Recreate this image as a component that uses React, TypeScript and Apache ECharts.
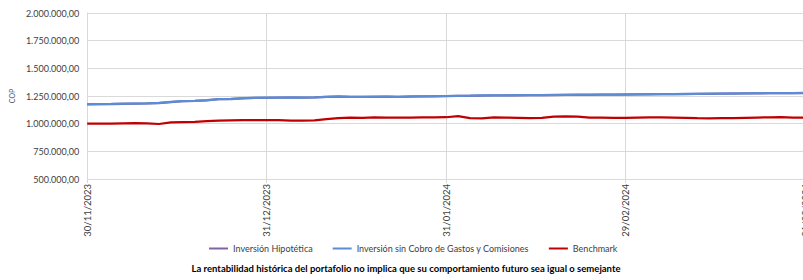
import React, { useEffect, useRef } from "react";
import * as echarts from "echarts";

// Month-end tick dates shown on the x axis
const tickDates = ["30/11/2023", "31/12/2023", "31/01/2024", "29/02/2024", "31/03/2024"];
const stepsPerMonth = 15;

// Values (COP)
const sinCobroValues = [
  1176000, 1177000, 1178000, 1180000, 1182000, 1184000, 1187000, 1196000, 1204000, 1206000,
  1212000, 1222000, 1223000, 1230000, 1233000, 1235000, 1236000, 1237000, 1236000, 1238000,
  1243000, 1246000, 1242000, 1243000, 1244000, 1245000, 1243000, 1246000, 1247000, 1248000,
  1250000, 1252000, 1253000, 1255000, 1256000, 1256000, 1257000, 1258000, 1259000, 1260000,
  1261000, 1262000, 1262000, 1263000, 1263000, 1264000, 1265000, 1266000, 1267000, 1268000,
  1269000, 1270000, 1271000, 1272000, 1273000, 1274000, 1275000, 1276000, 1276000, 1277000,
  1278000,
];
const hipoteticaValues = [
  1175000, 1176000, 1177000, 1179000, 1181000, 1183000, 1186000, 1195000, 1203000, 1205000,
  1211000, 1221000, 1222000, 1229000, 1232000, 1234000, 1235000, 1236000, 1235000, 1237000,
  1242000, 1245000, 1241000, 1242000, 1243000, 1244000, 1242000, 1245000, 1246000, 1247000,
  1249000, 1251000, 1252000, 1254000, 1255000, 1255000, 1256000, 1257000, 1258000, 1259000,
  1260000, 1261000, 1261000, 1262000, 1262000, 1263000, 1264000, 1265000, 1266000, 1267000,
  1268000, 1269000, 1270000, 1271000, 1272000, 1273000, 1274000, 1275000, 1275000, 1276000,
  1277000,
];
const benchmarkValues = [
  1000000, 1000000, 1000000, 1003000, 1004000, 1003000, 997000, 1012000, 1014000, 1016000,
  1024000, 1028000, 1030000, 1031000, 1031000, 1031000, 1032000, 1028000, 1027000, 1030000,
  1042000, 1050000, 1055000, 1053000, 1056000, 1054000, 1054000, 1055000, 1056000, 1057000,
  1058000, 1068000, 1051000, 1048000, 1056000, 1055000, 1053000, 1050000, 1052000, 1064000,
  1065000, 1064000, 1055000, 1054000, 1053000, 1053000, 1055000, 1056000, 1056000, 1054000,
  1052000, 1049000, 1047000, 1049000, 1051000, 1053000, 1055000, 1057000, 1058000, 1055000,
  1054000,
];

const seriesNames = [
  "Inversión Hipotética",
  "Inversión sin Cobro de Gastos y Comisiones",
  "Benchmark",
];
const seriesColors = ["#8064A2", "#5B8DD6", "#C00000"];
const footnote =
  "La rentabilidad histórica del portafolio no implica que su comportamiento futuro sea igual o semejante";

function parseDate(s: string): Date {
  const [d, m, y] = s.split("/").map(Number);
  return new Date(Date.UTC(y, m - 1, d));
}
function fmtDate(dt: Date): string {
  const d = String(dt.getUTCDate()).padStart(2, "0");
  const m = String(dt.getUTCMonth() + 1).padStart(2, "0");
  return `${d}/${m}/${dt.getUTCFullYear()}`;
}
function buildCategories(): string[] {
  const out: string[] = [];
  for (let s = 0; s < tickDates.length - 1; s++) {
    const a = parseDate(tickDates[s]).getTime();
    const b = parseDate(tickDates[s + 1]).getTime();
    for (let k = 0; k < stepsPerMonth; k++) {
      out.push(fmtDate(new Date(a + ((b - a) * k) / stepsPerMonth)));
    }
  }
  out.push(tickDates[tickDates.length - 1]);
  return out;
}

function fmtNum(v: number): string {
  const s = Math.round(v).toString().replace(/\B(?=(\d{3})+(?!\d))/g, ".");
  return s + ",00";
}

const FONT = "Lato, 'Noto Sans', sans-serif";
const CHART_W = 810;

export default function App() {
  const ref = useRef<HTMLDivElement>(null);
  useEffect(() => {
    if (!ref.current) return;
    const chart = echarts.init(ref.current, undefined, { renderer: "svg" });
    const categories = buildCategories();
    const values = [hipoteticaValues, sinCobroValues, benchmarkValues];
    chart.setOption({
      animation: false,
      textStyle: { fontFamily: FONT },
      grid: { left: 82, right: 3, top: 13, bottom: 101, containLabel: false },
      legend: {
        top: 239,
        left: 204,
        icon: "rect",
        itemWidth: 19,
        itemHeight: 2,
        itemGap: 20,
        textStyle: { fontSize: 9, color: "#404040", fontFamily: FONT },
        data: seriesNames,
      },
      xAxis: {
        type: "category",
        boundaryGap: false,
        data: categories,
        axisLine: { show: false },
        axisTick: {
          show: true,
          interval: stepsPerMonth - 1,
          length: 4,
          lineStyle: { color: "#D9D9D9" },
        },
        axisLabel: {
          interval: stepsPerMonth - 1,
          rotate: 90,
          fontSize: 9.5,
          color: "#404040",
          margin: 5,
          fontFamily: FONT,
        },
        splitLine: {
          show: true,
          interval: stepsPerMonth - 1,
          lineStyle: { color: "#D9D9D9", width: 1 },
        },
      },
      yAxis: {
        type: "value",
        min: 500000,
        max: 2000000,
        interval: 250000,
        name: "COP",
        nameLocation: "middle",
        nameGap: 67,
        nameTextStyle: { fontSize: 7, color: "#44546A", fontFamily: FONT },
        axisLine: { show: true, lineStyle: { color: "#D9D9D9" } },
        axisTick: { show: false },
        axisLabel: {
          fontSize: 9,
          color: "#404040",
          margin: 8,
          formatter: (v: number) => fmtNum(v),
          fontFamily: FONT,
        },
        splitLine: { show: true, lineStyle: { color: "#D9D9D9", width: 1 } },
      },
      graphic: [
        {
          type: "text",
          x: 406,
          y: 268,
          style: {
            text: footnote,
            fontSize: 9.5,
            fontWeight: "bold",
            fill: "#000000",
            fontFamily: FONT,
            align: "center",
            verticalAlign: "middle",
          },
        },
      ],
      series: seriesNames.map((name, i) => ({
        name,
        type: "line",
        data: values[i],
        showSymbol: false,
        symbol: "none",
        smooth: false,
        lineStyle: { width: 2.25, color: seriesColors[i] },
        itemStyle: { color: seriesColors[i] },
        z: i === 0 ? 1 : 2 + i,
      })),
    });
    return () => chart.dispose();
  }, []);
  return (
    <div style={{ position: "fixed", left: 0, top: 0, width: 803, height: 280, overflow: "hidden", background: "#fff" }}>
      <div ref={ref} style={{ width: CHART_W, height: 280 }} />
    </div>
  );
}
